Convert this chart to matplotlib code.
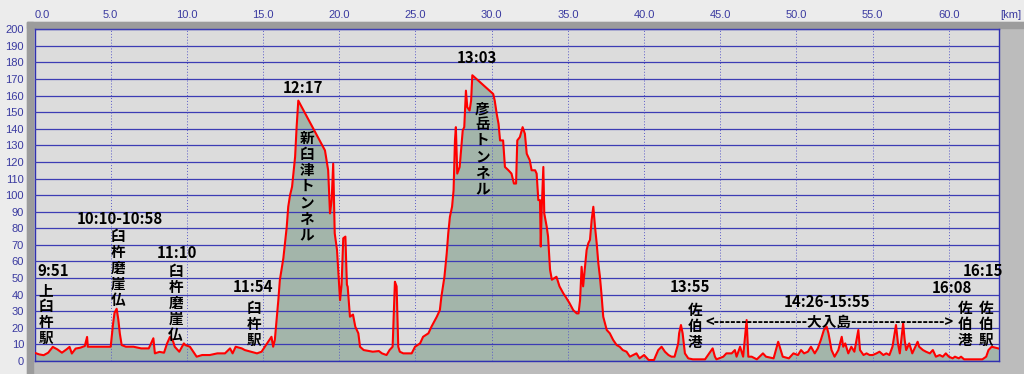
import matplotlib
matplotlib.use("Agg")
import matplotlib.pyplot as plt
from matplotlib.patches import Rectangle

# 距離 [km] と 標高 [m]
km = [0.0, 0.3, 0.6, 0.9, 1.2, 1.5, 1.8, 2.1, 2.3, 2.45, 2.7, 3.0, 3.3, 3.45, 3.5,
      4.0, 4.5, 5.0, 5.15, 5.25, 5.39, 5.5, 5.6, 5.72, 6.0, 6.5, 7.0, 7.5, 7.8, 7.9,
      8.2, 8.5, 8.7, 8.89, 9.1, 9.2, 9.5, 9.8, 9.9, 10.2, 10.64, 11.0, 11.5, 12.0,
      12.5, 12.83, 13.0, 13.2, 13.6, 13.8, 14.2, 14.6, 14.9, 15.34, 15.55, 15.66,
      15.77, 16.0, 16.1, 16.33, 16.55, 16.65, 16.77, 16.9, 17.1, 17.2, 17.31, 19.06,
      19.27, 19.39, 19.5, 19.6, 19.7, 19.85, 20.05, 20.15, 20.26, 20.4, 20.5, 20.55,
      20.65, 20.7, 20.9, 21.05, 21.25, 21.36, 21.6, 22.2, 22.6, 22.8, 23.1, 23.3,
      23.5, 23.65, 23.76, 23.87, 23.97, 24.2, 24.75, 24.97, 25.3, 25.5, 25.85, 26.05,
      26.4, 26.6, 26.7, 26.9, 27.05, 27.15, 27.26, 27.4, 27.5, 27.59, 27.65, 27.74,
      27.9, 28.1, 28.2, 28.31, 28.4, 28.55, 28.65, 28.73, 30.1, 30.2, 30.33, 30.45,
      30.55, 30.75, 30.87, 31.1, 31.3, 31.46, 31.6, 31.68, 31.85, 32.03, 32.18, 32.3,
      32.5, 32.62, 32.85, 32.95, 33.06, 33.17, 33.22, 33.28, 33.39, 33.45, 33.61,
      33.7, 33.83, 33.95, 34.25, 34.45, 34.7, 34.9, 35.1, 35.35, 35.58, 35.7, 35.8,
      35.9, 36.0, 36.12, 36.23, 36.34, 36.45, 36.56, 36.67, 36.78, 36.89, 37.0, 37.1,
      37.2, 37.32, 37.55, 37.75, 37.97, 38.2, 38.4, 38.6, 38.85, 39.07, 39.5, 39.7,
      40.0, 40.3, 40.65, 40.93, 41.15, 41.37, 41.6, 41.8, 42.0, 42.24, 42.3, 42.42,
      42.53, 42.68, 42.9, 43.2, 43.6, 44.0, 44.5, 44.65, 44.75, 45.2, 45.4, 45.75,
      45.96, 46.07, 46.3, 46.5, 46.73, 46.84, 47.06, 47.4, 47.8, 48.0, 48.5, 48.8,
      48.9, 49.1, 49.5, 49.8, 50.1, 50.3, 50.5, 50.75, 50.95, 51.2, 51.4, 51.6, 51.8,
      51.98, 52.1, 52.3, 52.5, 52.75, 52.97, 53.07, 53.2, 53.4, 53.6, 53.8, 54.06,
      54.17, 54.4, 54.6, 54.8, 55.0, 55.25, 55.45, 55.7, 55.9, 56.1, 56.3, 56.53,
      56.66, 56.78, 57.0, 57.1, 57.2, 57.4, 57.6, 57.95, 58.05, 58.3, 58.5, 58.75,
      58.95, 59.15, 59.4, 59.6, 59.8, 60.0, 60.25, 60.4, 60.65, 60.8, 61.0, 62.2,
      62.45, 62.6, 62.81, 63.24]
elev = [5, 4, 3.5, 5, 8.5, 7, 5, 7, 8.5, 4.5, 7.5, 8, 9, 14.5, 8.6,
        8.6, 8.6, 8.6, 22, 29, 31.5, 25, 16.5, 9.6, 8.6, 8.6, 7.6, 7.6, 13.7, 4.6,
        5.5, 5, 10.6, 14.5, 11.7, 8.6, 5.6, 10.6, 9.6, 8.6, 2.6, 3.6, 3.6, 4.6,
        4.6, 7.6, 4.6, 8.6, 7.6, 6.6, 5.6, 4.6, 5.6, 11.7, 14.6, 8.6,
        12.7, 36.7, 48.8, 62, 80.7, 93, 100, 105, 123, 141, 157, 127,
        115, 89, 97, 119, 77, 67, 36.7, 46, 74, 75, 46, 44.8,
        33, 26.7, 28, 20.7, 16.7, 8.6, 6.6, 5.6, 6, 4.6, 3.6, 6.6,
        8.6, 47.8, 45, 8.6, 5.6, 4.6, 4.6, 8.6, 10.6, 14.6, 16.7, 20.7,
        26.7, 30.7, 38.8, 50.8, 64.9, 77, 87, 93, 103, 133, 141, 113,
        117, 139, 141, 163, 153, 151, 157, 172.3, 161, 157, 149, 143,
        133, 133, 117, 115, 113, 107, 107, 133, 135, 141, 137, 125,
        121, 115, 115, 113, 97, 97, 69, 91, 117, 89, 81,
        75, 55, 49, 50.8, 45, 40.8, 38, 35, 30.7, 28.7, 28.7, 36.7,
        56.8, 45, 56.8, 66.9, 71, 73, 85, 93, 81, 71, 58.8, 51,
        40.8, 26.7, 18.7, 16.7, 12.7, 9.6, 8.6, 6.6, 5.6, 2.6, 4.6, 1.6,
        3.6, 0.6, 0.6, 6.6, 8.6, 5.6, 3.6, 2.6, 2.6, 10.6, 16.7, 21.7,
        16.7, 4.6, 1.6, 1, 1, 1, 7.6, 2.6, 1, 2.6, 4.6, 4.6,
        6.6, 2.6, 8.6, 2.6, 24.7, 2.6, 2.6, 1, 4.6, 2.6, 1.6, 11.6,
        8.6, 2.6, 1.6, 4.6, 3.6, 6.6, 4.6, 5.6, 8.6, 4.6, 7.6, 12.7, 18.7,
        20.7, 16.7, 6.6, 2.6, 6.6, 14.6, 8.6, 10.6, 4.6, 8.6, 5.6, 18.7,
        6.6, 3.6, 4.6, 3.6, 3.6, 4.6, 5.6, 3.6, 4.6, 3.6, 8.6, 21.7,
        10.6, 4.6, 22.7, 12.7, 6.6, 10.6, 4.6, 11.6, 8.6, 6.6, 5.6, 4.6,
        6.6, 2.6, 3.6, 2.6, 4.6, 2.6, 1.6, 2.6, 1.6, 2.6, 1, 1,
        2.6, 6.6, 8.6, 7.6]

x_ticks = [0, 5, 10, 15, 20, 25, 30, 35, 40, 45, 50, 55, 60]
y_ticks = list(range(0, 201, 10))

# 注記: (文字, 距離, 標高)
times = [("9:51", 0.16, 54.2), ("10:10-10:58", 5.61, 85.5), ("11:10", 9.33, 65.2),
         ("11:54", 14.36, 44.4), ("12:17", 17.6, 164.6), ("13:03", 29.02, 182.4),
         ("13:55", 43.0, 44.4), ("14:26-15:55", 51.98, 35.7), ("16:08", 60.18, 43.8),
         ("16:15", 62.26, 54.4)]
places = [("上臼杵駅", 0.75, 47.6), ("臼杵磨崖仏", 5.48, 80.1), ("臼杵磨崖仏", 9.26, 59.0),
          ("臼杵駅", 14.4, 36.7), ("新臼津トンネル", 17.86, 139.2), ("彦岳トンネル", 29.38, 157.2),
          ("佐伯港", 43.33, 35.7), ("佐伯港", 61.05, 36.7), ("佐伯駅", 62.42, 36.7)]
island = ("<" + "-" * 17 + "大入島" + "-" * 17 + ">", 52.15, 23.7)

W, H = 1024, 374
fig = plt.figure(figsize=(W / 100, H / 100), dpi=100, facecolor="#ececec")

# 枠
fig.patches.append(Rectangle((27 / W, 0), 1 - 27 / W, (H - 22) / H,
                             transform=fig.transFigure, color="#bcbcbc", zorder=-2))
fig.patches.append(Rectangle((27 / W, 0), 6 / W, (H - 22) / H,
                             transform=fig.transFigure, color="#9c9c9c", zorder=-1))
fig.patches.append(Rectangle((27 / W, (H - 28) / H), 1 - 27 / W, 6 / H,
                             transform=fig.transFigure, color="#9c9c9c", zorder=-1))

ax = fig.add_axes([34.5 / W, 13 / H, (999 - 34.5) / W, (361 - 29.3) / H])
ax.set_zorder(1)
ax.set_facecolor("#dcdcdc")
ax.set_xlim(0, 63.29)
ax.set_ylim(0, 200)

ax.fill_between(km, elev, 0, color="#a3b5aa", lw=0, zorder=2)
ax.plot(km, elev, color="#ff0000", lw=1.5, zorder=4)

for y in y_ticks:
    ax.axhline(y, color="#3c3cb4", lw=0.9, zorder=3)
for x in x_ticks[1:]:
    ax.axvline(x, color="#5a5ac8", lw=0.7, ls=(0, (1, 2)), zorder=3)

for s in ax.spines.values():
    s.set_color("#3030b0")
    s.set_linewidth(1.0)

ax.xaxis.tick_top()
ax.set_xticks(x_ticks)
ax.set_xticklabels(["%.1f" % v for v in x_ticks])
ax.set_yticks(y_ticks)
ax.set_yticklabels([str(v) for v in y_ticks])
ax.tick_params(length=0, colors="#3a3aa0", labelsize=8)
ax.tick_params(axis="x", pad=7)
ax.tick_params(axis="y", pad=7.5)
for lab in ax.get_xticklabels() + ax.get_yticklabels():
    lab.set_fontfamily("Liberation Sans")
ax.get_xticklabels()[0].set_horizontalalignment("left")
fig.text(1011 / W, 1 - 15 / H, "[km]", ha="center", va="center",
         fontsize=8, color="#3a3aa0", family="Liberation Sans")

jp = ["Noto Sans CJK JP", "DejaVu Sans"]
for t, x, y in times:
    ha = "left" if t == "9:51" else "center"
    ax.text(x, y, t, ha=ha, va="center", fontsize=10.8, fontweight="bold",
            family=jp, zorder=6, clip_on=False)
for t, x, y in places:
    ax.text(x, y, "\n".join(t), ha="center", va="top", fontsize=10.5,
            fontweight="bold", family=jp, linespacing=1.0, zorder=6)
ax.text(island[1], island[2], island[0], ha="center", va="center", fontsize=10.5,
        fontweight="bold", family=jp, zorder=6)

fig.savefig("out.png", dpi=100, facecolor=fig.get_facecolor())
